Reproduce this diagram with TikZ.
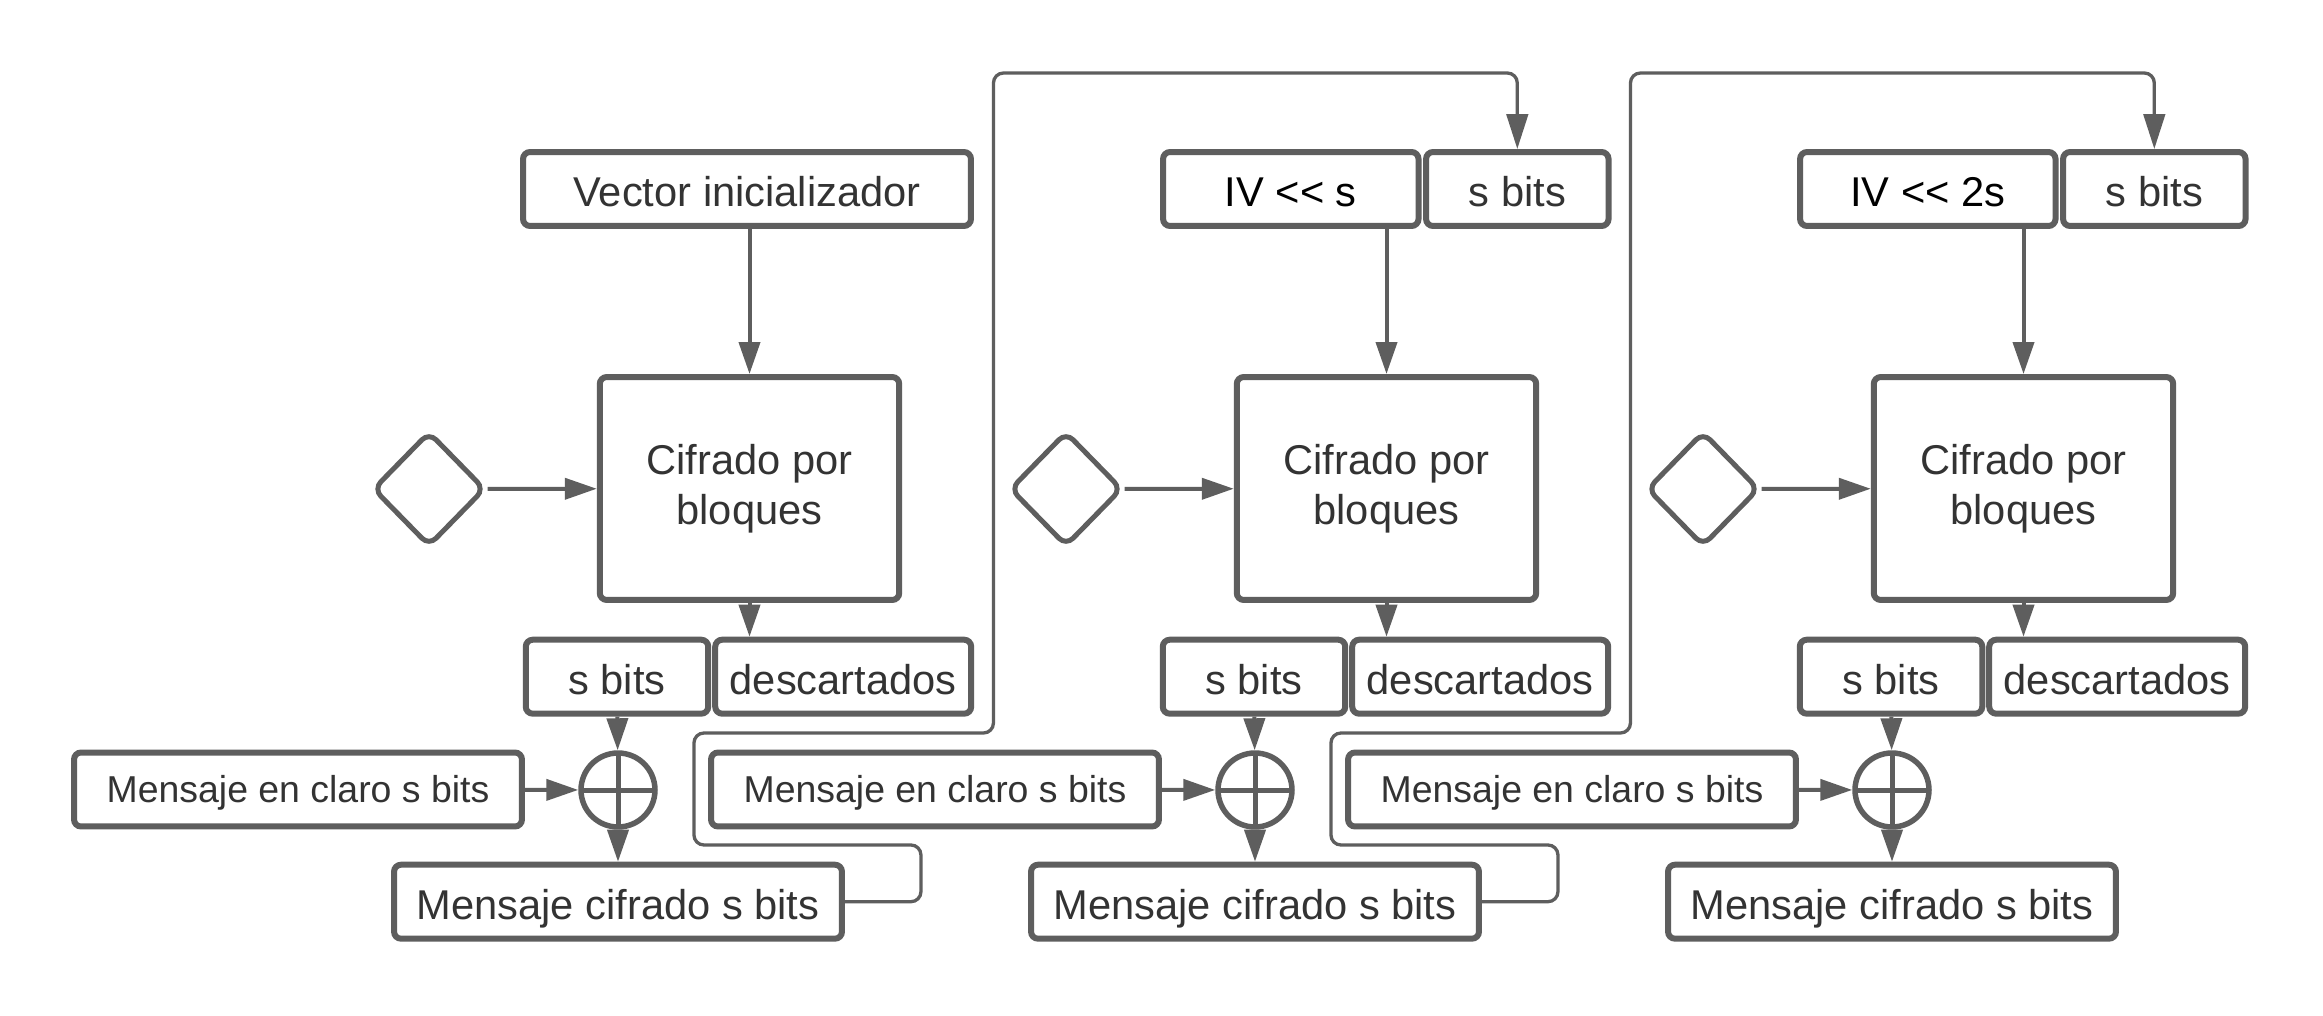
\documentclass[tikz,border=0pt]{standalone}
\usepackage{fontspec}
\setmainfont{Liberation Sans}
\usepackage{xcolor}
\usepackage{tikz}
\usetikzlibrary{shapes,arrows.meta}
\definecolor{linea}{HTML}{5E5E5E}
\definecolor{texto}{HTML}{333333}
\tikzset{caja/.style={rectangle,draw=linea,line width=0.12cm,rounded corners=0.14cm,text=texto,inner sep=0pt,minimum height=1.48cm,text height=0.7cm,text depth=0pt,font=\fontsize{23.7}{28}\selectfont}}
\tikzset{claro/.style={caja,minimum width=8.96cm,text height=0.54cm,font=\fontsize{21.3}{26}\selectfont}}
\tikzset{bloque/.style={rectangle,draw=linea,line width=0.12cm,rounded corners=0.14cm,text=texto,inner sep=0pt,minimum width=5.99cm,minimum height=4.46cm,align=center,font=\fontsize{23.7}{28.5}\selectfont}}
\tikzset{rombo/.style={diamond,draw=linea,line width=0.1cm,rounded corners=0.2cm,minimum width=2.25cm,minimum height=2.3cm,inner sep=0pt}}
\tikzset{suma/.style={circle,draw=linea,line width=0.11cm,minimum size=1.48cm,inner sep=0pt,path picture={\draw[linea,line width=0.1cm] (path picture bounding box.north) -- (path picture bounding box.south) (path picture bounding box.west) -- (path picture bounding box.east);}}}
\tikzset{flecha/.style={linea,line width=0.08cm,-{Triangle[length=0.64cm,width=0.42cm]}}}
\tikzset{vuelta/.style={linea,line width=0.066cm,rounded corners=0.2cm,-{Triangle[length=0.7cm,width=0.43cm]}}}

\begin{document}
\begin{tikzpicture}[x=0.02cm,y=-0.02cm]
    \fill[white] (0,0) rectangle (2323,1016);
    % primer bloque
    \node[caja,minimum width=8.96cm] (vi)at (747,189) {Vector inicializador};
    \node[bloque] (cb1)at (749.5,488.5) {Cifrado por\\bloques};
    \node[rombo] (d1)at (429,489) {};
    \node[caja,minimum width=3.65cm] (sb1)at (617,676.7) {s bits};
    \node[caja,minimum width=5.12cm] (ds1)at (843.2,676.7) {descartados};
    \node[claro] (mc1)at (298,789.5) {Mensaje en claro s bits};
    \node[suma] (x1)at (618,790) {};
    \node[caja,minimum width=8.96cm] (cf1)at (618,901.7) {Mensaje cifrado s bits};

    % segundo bloque
    \node[caja,minimum width=5.11cm,text=black] (iv2)at (1290.8,189) {IV <\kern0pt< s};
    \node[caja,minimum width=3.65cm] (st2)at (1517.3,189) {s bits};
    \node[bloque] (cb2)at (1386.5,488.5) {Cifrado por\\bloques};
    \node[rombo] (d2)at (1066,489) {};
    \node[caja,minimum width=3.65cm] (sb2)at (1254,676.7) {s bits};
    \node[caja,minimum width=5.12cm] (ds2)at (1480.2,676.7) {descartados};
    \node[claro] (mc2)at (935,789.5) {Mensaje en claro s bits};
    \node[suma] (x2)at (1255,790) {};
    \node[caja,minimum width=8.96cm] (cf2)at (1255,901.7) {Mensaje cifrado s bits};

    % tercer bloque
    \node[caja,minimum width=5.11cm,text=black] (iv3)at (1927.8,189) {IV <\kern0pt< 2s};
    \node[caja,minimum width=3.65cm] (st3)at (2154.3,189) {s bits};
    \node[bloque] (cb3)at (2023.5,488.5) {Cifrado por\\bloques};
    \node[rombo] (d3)at (1703,489) {};
    \node[caja,minimum width=3.65cm] (sb3)at (1891,676.7) {s bits};
    \node[caja,minimum width=5.12cm] (ds3)at (2117.2,676.7) {descartados};
    \node[claro] (mc3)at (1572,789.5) {Mensaje en claro s bits};
    \node[suma] (x3)at (1892,790) {};
    \node[caja,minimum width=8.96cm] (cf3)at (1892,901.7) {Mensaje cifrado s bits};

    \draw [flecha] (cb1.north |- vi.south) to (cb1.north);
    \draw [flecha] (cb2.north |- iv2.south) to (cb2.north);
    \draw [flecha] (cb3.north |- iv3.south) to (cb3.north);

    \draw [flecha] (d1) to (cb1);
    \draw [flecha] (d2) to (cb2);
    \draw [flecha] (d3) to (cb3);

    \draw [flecha] (cb1.south) to (cb1.south |- ds1.north);
    \draw [flecha] (cb2.south) to (cb2.south |- ds2.north);
    \draw [flecha] (cb3.south) to (cb3.south |- ds3.north);

    \draw [flecha] (sb1) to (x1);
    \draw [flecha] (sb2) to (x2);
    \draw [flecha] (sb3) to (x3);
    \draw [flecha] (mc1) to (x1);
    \draw [flecha] (mc2) to (x2);
    \draw [flecha] (mc3) to (x3);
    \draw [flecha] (x1) to (cf1);
    \draw [flecha] (x2) to (cf2);
    \draw [flecha] (x3) to (cf3);

    % realimentacion
    \draw [vuelta] (cf1.east) -- ++(76,0) -- ++(0,-56.7) -- ++(-227,0) -- ++(0,-112) -- ++(299.5,0) -- ++(0,-660) -| (st2.north);
    \draw [vuelta] (cf2.east) -- ++(76,0) -- ++(0,-56.7) -- ++(-227,0) -- ++(0,-112) -- ++(299.5,0) -- ++(0,-660) -| (st3.north);
\end{tikzpicture}
\end{document}
